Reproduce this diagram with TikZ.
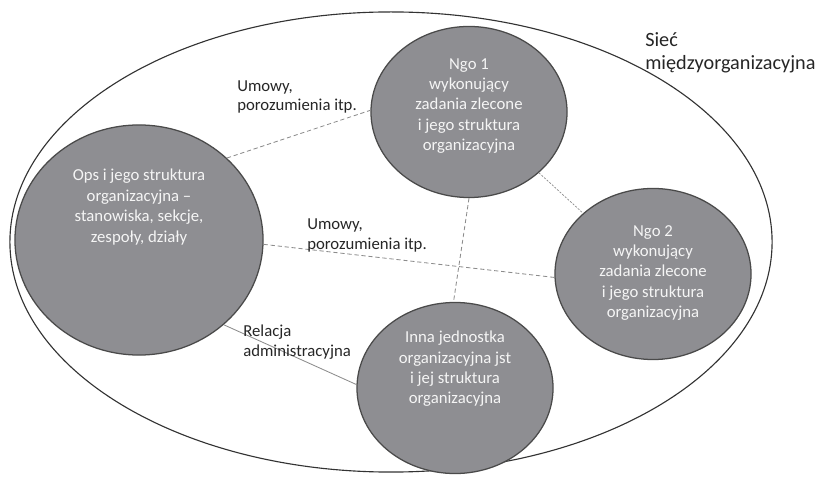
\documentclass[tikz,border=0pt]{standalone}
\usepackage{fontspec}
\setmainfont{Carlito}
\usetikzlibrary{shapes.geometric}
\definecolor{unitfill}{HTML}{8E8E92}
\definecolor{unitline}{HTML}{4A4A4A}
\definecolor{linkgray}{HTML}{8C8C8C}
\tikzset{
	unit/.style={ellipse,draw=unitline,line width=0.9pt,fill=unitfill,inner sep=0pt,
		minimum width=4.9cm,minimum height=4.275cm},
	unittext/.style={align=center,text=white!96!black,inner sep=0pt,
		font=\fontsize{11.9}{14.5}\selectfont},
	lbl/.style={align=left,anchor=west,text=black!85,inner sep=0pt,
		font=\fontsize{11.9}{14.2}\selectfont},
	umowa/.style={draw=linkgray,line width=0.6pt,dash pattern=on 3pt off 2pt},
	kontakt/.style={draw=linkgray,line width=0.5pt,dash pattern=on 1.5pt off 1pt},
	relacja/.style={draw=linkgray,line width=0.6pt}
}
\begin{document}
\begin{tikzpicture}[x=0.025cm,y=-0.025cm]
	\useasboundingbox (0,0) rectangle (819,477);
	\node[ellipse,draw=black!80,line width=0.8pt,inner sep=0pt,
		minimum width=19.05cm,minimum height=11.5cm] (siec) at (391,242) {};
	\node[lbl,font=\fontsize{14.4}{16.3}\selectfont] (siectxt) at (645,53) {Sieć\\międzyorganizacyjna};
	\node[unit,minimum width=6.2cm,minimum height=5.75cm] (ops) at (139,240) {};
	\node[unit] (ngo1) at (469,112) {};
	\node[unit] (ngo2) at (653,274) {};
	\node[unit] (inna) at (455,388) {};
	\node[unittext] (opstxt) at (139,207) {Ops i jego struktura\\organizacyjna --\\stanowiska, sekcje,\\zespoły, działy};
	\node[unittext] (ngo1txt) at (469,106) {Ngo 1\\wykonujący\\zadania zlecone\\i jego struktura\\organizacyjna};
	\node[unittext] (ngo2txt) at (653,273) {Ngo 2\\wykonujący\\zadania zlecone\\i jego struktura\\organizacyjna};
	\node[unittext] (innatxt) at (455,369) {Inna jednostka\\organizacyjna jst\\i jej struktura\\organizacyjna};
	\draw[umowa] (ops.43)--(ngo1.179) (ops.-2)--(ngo2.182) (ngo1.270)--(inna.91);
	\draw[kontakt] (ngo1.-41)--(ngo2.139);
	\draw[relacja] (ops.-45)--(inna.178);
	\node[lbl] (umowy1) at (237,97) {Umowy,\\porozumienia itp.};
	\node[lbl] (umowy2) at (307,235) {Umowy,\\porozumienia itp.};
	\node[lbl] (relacjatxt) at (243,342) {Relacja\\administracyjna};
\end{tikzpicture}
\end{document}
